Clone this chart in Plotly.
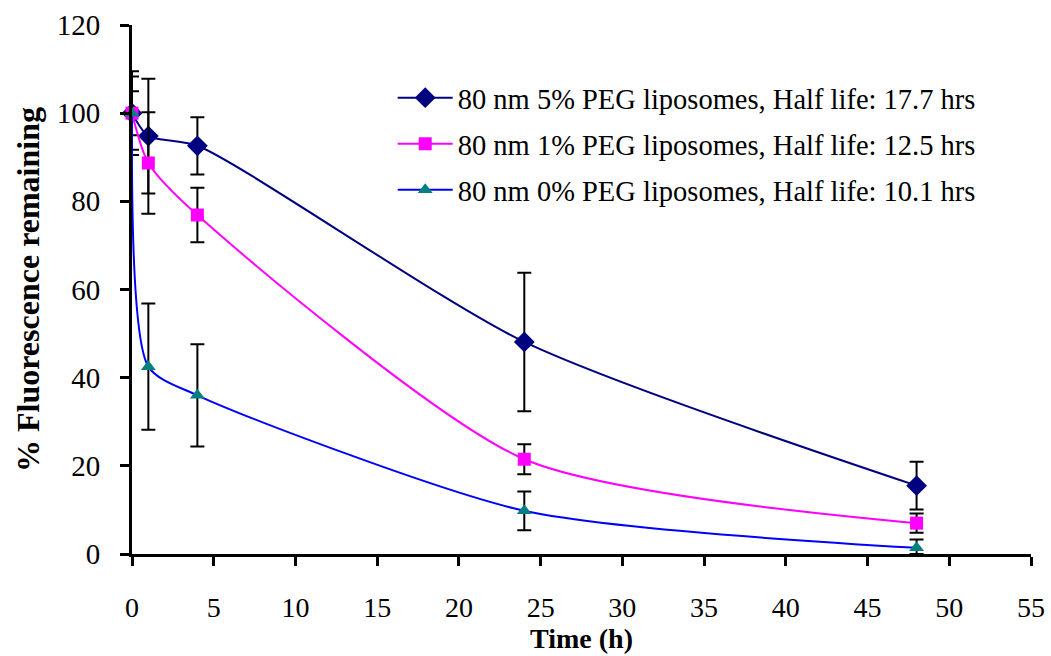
import plotly.graph_objects as go

time_h = [0, 1, 4, 24, 48]

peg5_values = [100, 94.8, 92.6, 48.1, 15.5]
peg5_err = [5.0, 13.0, 6.5, 15.7, 5.4]

peg1_values = [100, 88.7, 76.9, 21.5, 7.0]
peg1_err = [8.3, 11.5, 6.2, 3.4, 2.2]

peg0_values = [100, 42.5, 36.0, 9.8, 1.4]
peg0_err = [9.5, 14.3, 11.6, 4.4, 1.9]
peg0_err_minus = [9.5, 14.3, 11.6, 4.4, 1.4]

names = [
    "80 nm 5% PEG liposomes, Half life: 17.7 hrs",
    "80 nm 1% PEG liposomes, Half life: 12.5 hrs",
    "80 nm 0% PEG liposomes, Half life: 10.1 hrs",
]

x_ticks = list(range(0, 56, 5))
y_ticks = list(range(0, 121, 20))

FONT = "Liberation Serif"

fig = go.Figure()

def add(vals, err, errm, name, lc, mc, sym, size, grp):
    fig.add_trace(go.Scatter(
        x=time_h, y=vals, name=name, mode="lines+markers",
        line=dict(color=lc, width=2, shape="spline", smoothing=0.7),
        marker=dict(color=mc, symbol=sym, size=size),
        error_y=dict(type="data", array=err, arrayminus=errm, symmetric=False,
                     color="black", thickness=2, width=7),
        cliponaxis=False, legendgroup=grp,
    ))

add(peg5_values, peg5_err, peg5_err, names[0], "#000080", "#000080", "diamond", 16, "a")
add(peg1_values, peg1_err, peg1_err, names[1], "#FF00FF", "#FF00FF", "square", 13, "b")
add(peg0_values, peg0_err, peg0_err_minus, names[2], "#0000FF", "#008080", "triangle-up", 13, "c")

fig.update_layout(
    width=1051, height=656,
    margin=dict(l=132, r=20, t=25, b=102),
    paper_bgcolor="white", plot_bgcolor="white",
    font=dict(family=FONT, size=28, color="black"),
    legend=dict(x=0.29, y=0.91, xanchor="left", yanchor="top",
                font=dict(family=FONT, size=28.5), bgcolor="rgba(0,0,0,0)",
                tracegroupgap=6, traceorder="grouped", itemwidth=55),
    showlegend=True,
)

fig.update_xaxes(
    range=[0, 55], tickvals=x_ticks, ticktext=[str(v) for v in x_ticks],
    showline=True, linecolor="black", linewidth=3,
    ticks="outside", ticklen=9, tickwidth=3, tickcolor="black",
    showgrid=False, zeroline=False, ticklabelstandoff=17, automargin=False,
    tickfont=dict(family=FONT, size=28),
    title=dict(text="<b>Time (h)</b>", font=dict(family=FONT, size=28), standoff=4),
)
fig.update_yaxes(
    range=[0, 120], tickvals=y_ticks, ticktext=[str(v) for v in y_ticks],
    showline=True, linecolor="black", linewidth=3,
    ticks="outside", ticklen=9, tickwidth=3, tickcolor="black",
    showgrid=False, zeroline=False, ticklabelstandoff=14, automargin=False,
    tickfont=dict(family=FONT, size=29),
    title=dict(text="<b>% Fluorescence remaining</b>", font=dict(family=FONT, size=32), standoff=8),
)

fig.write_html("out.html")
